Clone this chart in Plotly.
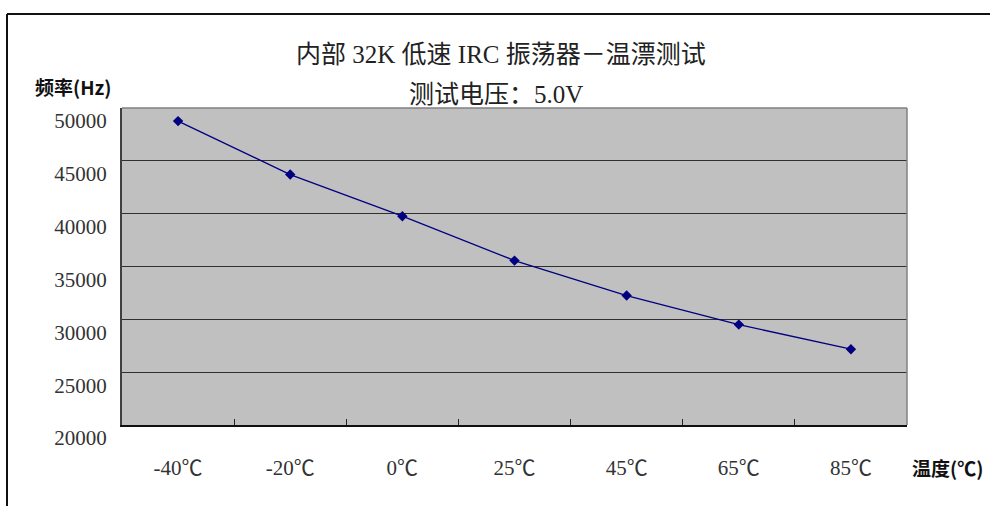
import plotly.graph_objects as go

temps = ["-40℃", "-20℃", "0℃", "25℃", "45℃", "65℃", "85℃"]
freq = [48760, 43700, 39760, 35560, 32250, 29500, 27170]
y_ticks = [20000, 25000, 30000, 35000, 40000, 45000, 50000]
title1 = "内部 32K 低速 IRC 振荡器－温漂测试"
title2 = "测试电压：5.0V"
y_title = "频率(Hz)"
x_title = "温度(℃)"

FONT = "Liberation Serif, Noto Sans CJK SC, serif"
CJK = "Noto Sans CJK SC, sans-serif"

L, R, T, B = 122, 83, 108, 81
W, H = 990, 506
PW, PH = W - L - R, H - T - B

def px(x):
    return (x - L) / PW

def py(y):
    return (H - B - y) / PH

fig = go.Figure()
fig.add_trace(go.Scatter(
    x=temps, y=freq, mode="lines+markers",
    line=dict(color="#000080", width=1.3),
    marker=dict(symbol="diamond", size=8, color="#000080"),
    showlegend=False, hoverinfo="x+y",
))

fig.update_layout(
    width=W, height=H,
    margin=dict(l=L, r=R, t=T, b=B),
    paper_bgcolor="white",
    plot_bgcolor="#C0C0C0",
    font=dict(family=FONT, size=21, color="#222"),
    xaxis=dict(
        type="category", tickson="boundaries", ticks="inside", ticklen=6,
        tickcolor="#222", tickwidth=1, range=[-0.5, len(temps) - 0.5],
        showline=True, linecolor="#111", linewidth=2,
        showgrid=False, ticklabelstandoff=23,
        tickfont=dict(family=FONT, size=21, color="#333"),
        fixedrange=True,
    ),
    yaxis=dict(
        range=[20000, 50000], tickvals=y_ticks,
        ticktext=[str(v) for v in y_ticks],
        showgrid=True, gridcolor="#303030", gridwidth=1,
        showline=True, linecolor="#404040", linewidth=2,
        ticks="", ticklabelstandoff=9, ticklabelshift=13,
        tickfont=dict(family=FONT, size=21, color="#333"),
        zeroline=False, fixedrange=True,
    ),
)

# plot area top/right border
fig.add_shape(type="line", xref="paper", yref="paper", x0=0, x1=1, y0=1, y1=1,
              line=dict(color="#808080", width=1.5))
fig.add_shape(type="line", xref="paper", yref="paper", x0=1, x1=1, y0=0, y1=1,
              line=dict(color="#808080", width=1.5))

# outer chart frame
fig.add_shape(type="line", xref="paper", yref="paper",
              x0=px(7), x1=px(1000), y0=py(14), y1=py(14),
              line=dict(color="#111", width=2))
fig.add_shape(type="line", xref="paper", yref="paper",
              x0=px(7), x1=px(7), y0=py(14), y1=py(520),
              line=dict(color="#111", width=2))

fig.add_annotation(text=title1, xref="paper", yref="paper", x=px(501), y=py(55),
                   showarrow=False, font=dict(family=FONT, size=25, color="#222"),
                   xanchor="center", yanchor="middle")
fig.add_annotation(text=title2, xref="paper", yref="paper", x=px(496), y=py(94),
                   showarrow=False, font=dict(family=FONT, size=25, color="#222"),
                   xanchor="center", yanchor="middle")
fig.add_annotation(text="<b>" + y_title + "</b>", xref="paper", yref="paper",
                   x=px(73), y=py(87), showarrow=False,
                   font=dict(family=CJK, size=19, color="#111"),
                   xanchor="center", yanchor="middle")
fig.add_annotation(text="<b>" + x_title + "</b>", xref="paper", yref="paper",
                   x=px(947), y=py(467), showarrow=False,
                   font=dict(family=CJK, size=19, color="#111"),
                   xanchor="center", yanchor="middle")

fig.write_html("out.html", config={"displayModeBar": False},
               post_script="document.body.style.margin='0';")
